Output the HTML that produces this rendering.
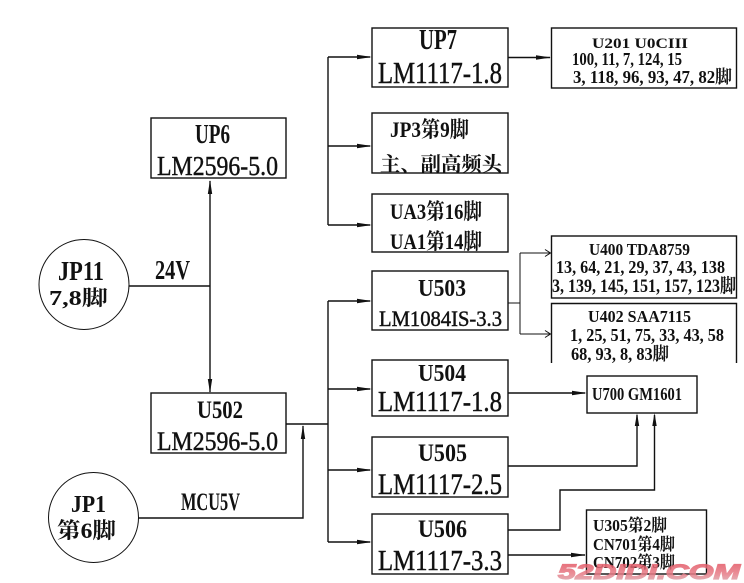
<!DOCTYPE html>
<html>
<head>
<meta charset="utf-8">
<style>
html,body{margin:0;padding:0;background:#fff;}
svg{display:block;}
text{font-family:"Liberation Serif","Noto Serif CJK SC",serif;fill:#111;}
.b{font-weight:bold;}
.n{stroke:#111;stroke-width:0.45;}
</style>
</head>
<body>
<svg width="744" height="583" viewBox="0 0 744 583" xmlns="http://www.w3.org/2000/svg">
<defs>
<linearGradient id="wm" x1="0" y1="0" x2="0" y2="1">
<stop offset="0" stop-color="#e2505e"/>
<stop offset="0.55" stop-color="#e77b86"/>
<stop offset="1" stop-color="#d9b3b8"/>
</linearGradient>
</defs>
<g fill="none" stroke="#111" stroke-width="1.4">
<rect x="151" y="118" width="135" height="60"/>
<rect x="151" y="393" width="135" height="60"/>
<rect x="372" y="28" width="136" height="59"/>
<rect x="372" y="113" width="136" height="60"/>
<rect x="372" y="194" width="136" height="58"/>
<rect x="372" y="271" width="136" height="59"/>
<rect x="372" y="360" width="136" height="56"/>
<rect x="372" y="437" width="136" height="60"/>
<rect x="372" y="514" width="136" height="60"/>
<rect x="551.5" y="28" width="185" height="60"/>
<rect x="551.5" y="236" width="185" height="62"/>
<path d="M551.5 363 V303.5 H736.5 V363"/>
<rect x="587" y="376" width="110" height="37"/>
<rect x="586.5" y="510" width="120" height="64"/>
<circle cx="84" cy="284.5" r="45" stroke-width="1"/>
<circle cx="93.5" cy="517.5" r="45" stroke-width="1"/>
<path d="M129 286 H210 M210 181 V392"/>
<path d="M138 518 H303 V426"/>
<path d="M286 424 H328"/>
<path d="M328 57 V225 M328 57 H370 M328 146 H370 M328 225 H370"/>
<path d="M328 301 V542 M328 301 H370 M328 389 H370 M328 470 H370 M328 542 H370"/>
<path d="M508 57.5 H550"/>
<path d="M508 303 H520 M520 253 V334 M520 253 H550 M520 334 H550" stroke-width="1"/>
<path d="M545 249.5 L550.5 253 L545 256.5 M545 330.5 L550.5 334 L545 337.5" stroke-width="1"/>
<path d="M508 393 H585"/>
<path d="M508 466 H637 V415"/>
<path d="M508 530 H560 V490 H654.5 V415"/>
<path d="M508 555 H585"/>
</g>
<g fill="#111" stroke="none">
<path d="M372 57 L357 54.8 L357 59.2 Z"/>
<path d="M372 146 L357 143.8 L357 148.2 Z"/>
<path d="M372 225 L357 222.8 L357 227.2 Z"/>
<path d="M372 301 L357 298.8 L357 303.2 Z"/>
<path d="M372 389 L357 386.8 L357 391.2 Z"/>
<path d="M372 470 L357 467.8 L357 472.2 Z"/>
<path d="M372 542 L357 539.8 L357 544.2 Z"/>
<path d="M551 57.5 L536 55.3 L536 59.7 Z"/>
<path d="M587 393 L572 390.8 L572 395.2 Z"/>
<path d="M586 555 L571 552.8 L571 557.2 Z"/>
<path d="M210 180 L207.8 194 L212.2 194 Z"/>
<path d="M210 393 L207.8 379 L212.2 379 Z"/>
<path d="M303 425 L300.8 439 L305.2 439 Z"/>
<path d="M637 413 L634.8 426 L639.2 426 Z"/>
<path d="M654.5 413 L652.3 426 L656.7 426 Z"/>
</g>

<text class="b" x="58" y="280" font-size="27" textLength="46" lengthAdjust="spacingAndGlyphs">JP11</text>
<text class="b" x="49" y="305" font-size="21" textLength="59" lengthAdjust="spacingAndGlyphs">7,8脚</text>
<text class="b" x="155" y="279" font-size="27" textLength="35" lengthAdjust="spacingAndGlyphs">24V</text>
<text class="b" x="195" y="143" font-size="27" textLength="35" lengthAdjust="spacingAndGlyphs">UP6</text>
<text class="n" x="157" y="175" font-size="27" textLength="121" lengthAdjust="spacingAndGlyphs">LM2596-5.0</text>
<text class="b" x="197" y="418" font-size="25" textLength="46" lengthAdjust="spacingAndGlyphs">U502</text>
<text class="n" x="157" y="450" font-size="26" textLength="121" lengthAdjust="spacingAndGlyphs">LM2596-5.0</text>
<text class="b" x="71" y="512" font-size="24" textLength="35" lengthAdjust="spacingAndGlyphs">JP1</text>
<text class="b" x="57" y="538" font-size="22" textLength="59" lengthAdjust="spacingAndGlyphs">第6脚</text>
<text class="b" x="181" y="510" font-size="25" textLength="59" lengthAdjust="spacingAndGlyphs">MCU5V</text>

<text class="b" x="419" y="49" font-size="29" textLength="38" lengthAdjust="spacingAndGlyphs">UP7</text>
<text class="n" x="378" y="83" font-size="31" textLength="124" lengthAdjust="spacingAndGlyphs">LM1117-1.8</text>
<text class="b" x="390" y="137" font-size="22" textLength="79" lengthAdjust="spacingAndGlyphs">JP3第9脚</text>
<text class="b" x="380" y="171" font-size="20" textLength="122" lengthAdjust="spacingAndGlyphs">主、副高频头</text>
<text class="b" x="390" y="219" font-size="22" textLength="92" lengthAdjust="spacingAndGlyphs">UA3第16脚</text>
<text class="b" x="390" y="249" font-size="22" textLength="92" lengthAdjust="spacingAndGlyphs">UA1第14脚</text>
<text class="b" x="418" y="296" font-size="24" textLength="48" lengthAdjust="spacingAndGlyphs">U503</text>
<text class="n" x="379" y="326" font-size="22" textLength="123" lengthAdjust="spacingAndGlyphs">LM1084IS-3.3</text>
<text class="b" x="418" y="381" font-size="24" textLength="48" lengthAdjust="spacingAndGlyphs">U504</text>
<text class="n" x="378" y="411" font-size="28" textLength="124" lengthAdjust="spacingAndGlyphs">LM1117-1.8</text>
<text class="b" x="418" y="461" font-size="25" textLength="49" lengthAdjust="spacingAndGlyphs">U505</text>
<text class="n" x="378" y="494" font-size="30" textLength="124" lengthAdjust="spacingAndGlyphs">LM1117-2.5</text>
<text class="b" x="418" y="537" font-size="25" textLength="49" lengthAdjust="spacingAndGlyphs">U506</text>
<text class="n" x="378" y="570" font-size="28" textLength="124" lengthAdjust="spacingAndGlyphs">LM1117-3.3</text>

<text class="b" x="592" y="48" font-size="15" textLength="96" lengthAdjust="spacingAndGlyphs">U201   U0CIII</text>
<text class="b" x="572" y="65" font-size="18" textLength="110" lengthAdjust="spacingAndGlyphs">100, 11, 7, 124, 15</text>
<text class="b" x="573" y="83" font-size="18" textLength="159" lengthAdjust="spacingAndGlyphs">3, 118, 96, 93, 47, 82脚</text>
<text class="b" x="589" y="255" font-size="17" textLength="101" lengthAdjust="spacingAndGlyphs">U400  TDA8759</text>
<text class="b" x="556" y="273" font-size="18" textLength="169" lengthAdjust="spacingAndGlyphs">13, 64, 21, 29, 37, 43, 138</text>
<text class="b" x="552" y="292" font-size="19" textLength="184" lengthAdjust="spacingAndGlyphs">3, 139, 145, 151, 157, 123脚</text>
<text class="b" x="588" y="322" font-size="17" textLength="103" lengthAdjust="spacingAndGlyphs">U402  SAA7115</text>
<text class="b" x="570" y="341" font-size="18" textLength="154" lengthAdjust="spacingAndGlyphs">1, 25, 51, 75, 33, 43, 58</text>
<text class="b" x="571" y="360" font-size="18" textLength="98" lengthAdjust="spacingAndGlyphs">68, 93, 8, 83脚</text>
<text class="b" x="592" y="400" font-size="18" textLength="90" lengthAdjust="spacingAndGlyphs">U700  GM1601</text>
<text class="b" x="593" y="531" font-size="17" textLength="74" lengthAdjust="spacingAndGlyphs">U305第2脚</text>
<text class="b" x="593" y="550" font-size="17" textLength="82" lengthAdjust="spacingAndGlyphs">CN701第4脚</text>
<text class="b" x="593" y="568" font-size="17" textLength="82" lengthAdjust="spacingAndGlyphs">CN702第3脚</text>

<text x="558" y="579" font-size="21" font-weight="bold" font-style="italic" textLength="182" lengthAdjust="spacingAndGlyphs" style="font-family:'Liberation Sans',sans-serif;fill:url(#wm);stroke:url(#wm);stroke-width:1.2;opacity:0.85">52DIDI.COM</text>
</svg>
</body>
</html>
